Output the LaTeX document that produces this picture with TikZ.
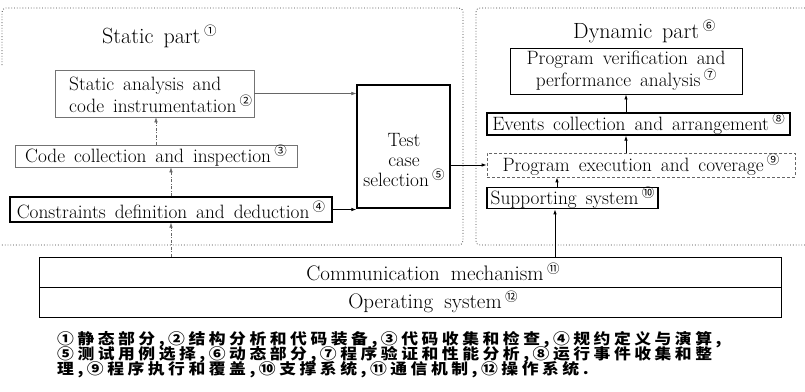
\documentclass[tikz,border=0pt]{standalone}
\usepackage{fontspec}
\usetikzlibrary{arrows.meta,calc}
\newfontfamily\cjkf[LetterSpace=21]{Noto Sans CJK SC}
\newfontfamily\circf{Noto Sans CJK SC}
\newcommand\cnum[1]{\,\raisebox{0.36em}{\circf\fontsize{12.5}{12.5}\selectfont #1}}
\newcommand\widecjk[1]{\scalebox{1.12}[1]{\cjkf\bfseries\fontsize{15}{15}\selectfont #1}}
\begin{document}
\begin{tikzpicture}[x=1pt,y=-1pt,
  every node/.style={inner sep=0pt,font={\fontsize{19.3}{20}\selectfont\spaceskip=9pt plus 2pt minus 1pt\relax}},
  bigtext/.style={font={\fontsize{21}{22}\selectfont\spaceskip=11pt plus 2pt minus 1pt\relax}},
  titletext/.style={anchor=base west,font={\fontsize{22}{22}\selectfont\spaceskip=10pt plus 2pt minus 1pt\relax}},
  thinbox/.style={draw=black!55,line width=0.6pt},
  thickbox/.style={draw=black,line width=1.2pt},
  midbox/.style={draw=black,line width=0.9pt},
  dashbox/.style={draw=black!60,line width=0.7pt,densely dashed},
  region/.style={draw=black!75,line width=0.8pt,dotted},
  solidarrow/.style={draw=black,line width=0.8pt,-{Latex[length=5pt,width=3.5pt]}},
  grayarrow/.style={draw=black!60,line width=0.5pt,-{Latex[length=5pt,width=3.5pt]}},
  dasharrow/.style={draw=black!60,line width=0.6pt,dash pattern=on 3pt off 1.5pt on 1pt off 1.5pt,-{Latex[length=5pt,width=3.5pt]}},
  cjkline/.style={anchor=west}
]
\useasboundingbox (0,0) rectangle (805,391);
\fill[white] (0,0) rectangle (805,391);

% regions
\draw[region,rounded corners=4pt] (2,65) -- (2,8) -- (463,8) -- (463,245) -- (0,245);
\draw[region,rounded corners=4pt] (805,8) -- (476,8) -- (476,245) -- (805,245);

% titles
\node[titletext] (stitle) at (102,43) {Static part\cnum{①}};
\node[titletext] (dtitle) at (573,38) {Dynamic part\cnum{⑥}};

% static part
\node[thinbox,minimum width=199pt,minimum height=47pt] (sa) at (154.5,93.5) {};
\node[align=left,anchor=west] (satext) at (69,95) {Static analysis and\\code instrumentation\cnum{②}};
\node[thinbox,minimum width=282pt,minimum height=22pt] (cc) at (156,156) {Code collection and inspection\cnum{③}};
\node[thickbox,minimum width=322pt,minimum height=25pt] (cd) at (171,209.5) {Constraints definition and deduction\cnum{④}};
\node[thickbox,minimum width=93pt,minimum height=123pt] (tc) at (403.5,146.5) {};
\node[align=center] (tctext) at (404,160) {Test\\case\\selection\cnum{⑤}};

% dynamic part
\node[midbox,minimum width=232pt,minimum height=46pt,align=center,font={\fontsize{19.3}{22}\selectfont\spaceskip=9pt plus 2pt minus 1pt\relax}] (pv) at (626,71) {Program verification and\\performance analysis\cnum{⑦}};
\node[thickbox,minimum width=303pt,minimum height=22pt] (ev) at (638.5,124) {Events collection and arrangement\cnum{⑧}};
\node[dashbox,minimum width=308pt,minimum height=24pt] (pe) at (641,165) {Program execution and coverage\cnum{⑨}};
\node[thickbox,minimum width=171pt,minimum height=20pt] (ss) at (572.5,198) {Supporting system\cnum{⑩}};

% bottom layers
\node[midbox,minimum width=742pt,minimum height=30pt] (cm) at (410,272) {};
\node[midbox,minimum width=742pt,minimum height=30pt] (os) at (410,302) {};
\node[bigtext] (cmtext) at (433,272) {Communication mechanism\cnum{⑪}};
\node[bigtext] (ostext) at (433,302) {Operating system\cnum{⑫}};

% arrows
\draw[grayarrow] (sa.east) -- (sa.east -| tc.west);
\draw[solidarrow] (cd.east) -- (cd.east -| tc.west);
\draw[solidarrow] (tc.east |- pe.west) -- (pe.west);
\draw[dasharrow] (cc.north) -- (cc.north |- sa.south);
\draw[dasharrow] (cd.north) -- (cd.north |- cc.south);
\draw[dasharrow] (cd.south |- cm.north) -- (cd.south);
\draw[solidarrow] (pv.south |- ev.north) -- (pv.south);
\draw[solidarrow] (pv.south |- pe.north) -- (pv.south |- ev.south);
\draw[solidarrow] ([xshift=-15.5pt]ss.north) -- ([xshift=-15.5pt]ss.north |- pe.south);
\draw[solidarrow] ([xshift=-17.5pt]ss.south |- cm.north) -- ([xshift=-17.5pt]ss.south);

% caption
\node[cjkline] (cap1) at (57,340) {\widecjk{①静态部分,②结构分析和代码装备,③代码收集和检查,④规约定义与演算,}};
\node[cjkline] (cap2) at (57,355) {\widecjk{⑤测试用例选择,⑥动态部分,⑦程序验证和性能分析,⑧运行事件收集和整}};
\node[cjkline] (cap3) at (57,370) {\widecjk{理,⑨程序执行和覆盖,⑩支撑系统,⑪通信机制,⑫操作系统.}};
\end{tikzpicture}
\end{document}
